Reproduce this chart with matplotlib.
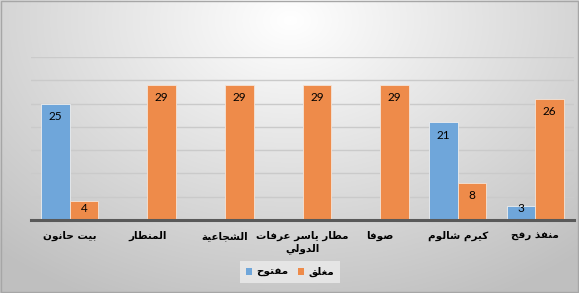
import numpy as np
import matplotlib
matplotlib.use("Agg")
import matplotlib.pyplot as plt
from matplotlib.patches import Patch

# data
categories = ["بيت حانون", "المنطار", "الشجاعية", "مطار ياسر عرفات\nالدولي",
              "صوفا", "كيرم شالوم", "منفذ رفح"]
open_vals = [25, 0, 0, 0, 0, 21, 3]
closed_vals = [4, 29, 29, 29, 29, 8, 26]
series_names = ["مفتوح", "مغلق"]

# simple arabic shaping (presentation forms) since matplotlib has no bidi
FORMS = {
    'ا': (0xFE8D, 0xFE8E), 'ب': (0xFE8F, 0xFE90, 0xFE91, 0xFE92),
    'ة': (0xFE93, 0xFE94), 'ت': (0xFE95, 0xFE96, 0xFE97, 0xFE98),
    'ج': (0xFE9D, 0xFE9E, 0xFE9F, 0xFEA0), 'ح': (0xFEA1, 0xFEA2, 0xFEA3, 0xFEA4),
    'د': (0xFEA9, 0xFEAA), 'ذ': (0xFEAB, 0xFEAC),
    'ر': (0xFEAD, 0xFEAE), 'ز': (0xFEAF, 0xFEB0),
    'س': (0xFEB1, 0xFEB2, 0xFEB3, 0xFEB4), 'ش': (0xFEB5, 0xFEB6, 0xFEB7, 0xFEB8),
    'ص': (0xFEB9, 0xFEBA, 0xFEBB, 0xFEBC), 'ط': (0xFEC1, 0xFEC2, 0xFEC3, 0xFEC4),
    'ع': (0xFEC9, 0xFECA, 0xFECB, 0xFECC), 'غ': (0xFECD, 0xFECE, 0xFECF, 0xFED0),
    'ف': (0xFED1, 0xFED2, 0xFED3, 0xFED4), 'ق': (0xFED5, 0xFED6, 0xFED7, 0xFED8),
    'ك': (0xFED9, 0xFEDA, 0xFEDB, 0xFEDC), 'ل': (0xFEDD, 0xFEDE, 0xFEDF, 0xFEE0),
    'م': (0xFEE1, 0xFEE2, 0xFEE3, 0xFEE4), 'ن': (0xFEE5, 0xFEE6, 0xFEE7, 0xFEE8),
    'و': (0xFEED, 0xFEEE), 'ي': (0xFEF1, 0xFEF2, 0xFEF3, 0xFEF4),
}


def shape_line(s):
    out = []
    for i, c in enumerate(s):
        if c not in FORMS:
            out.append(c)
            continue
        f = FORMS[c]
        prev = s[i - 1] if i > 0 else ''
        nxt = s[i + 1] if i + 1 < len(s) else ''
        join_prev = prev in FORMS and len(FORMS[prev]) == 4
        join_next = len(f) == 4 and nxt in FORMS
        if join_prev and join_next:
            code = f[3]
        elif join_prev:
            code = f[1]
        elif join_next:
            code = f[2]
        else:
            code = f[0]
        out.append(chr(code))
    return ''.join(out)[::-1]


def ar(s):
    return "\n".join(shape_line(line) for line in s.split("\n"))


blue = "#6FA6DA"
orange = "#EE8B4A"

fig = plt.figure(figsize=(5.79, 2.93), dpi=100)

# background radial gradient
bg = fig.add_axes([0, 0, 1, 1], zorder=-10)
yy, xx = np.mgrid[0:293, 0:579]
r = np.sqrt(((xx - 290) / 420.0) ** 2 + ((yy - 20) / 300.0) ** 2)
shade = np.clip(1.0 - 0.24 * r, 0.75, 1.0)
bg.imshow(np.dstack([shade, shade, shade]), aspect='auto', extent=[0, 1, 0, 1])
bg.set_axis_off()
fig.patches.append(plt.Rectangle((0.001, 0.002), 0.997, 0.995, transform=fig.transFigure,
                                 fill=False, edgecolor="#a6a6a6", linewidth=1))

ax = fig.add_axes([31 / 579, 73 / 293, 543 / 579, 163 / 293])
ax.patch.set_alpha(0)

x = np.arange(len(categories))
w = 0.37
b1 = ax.bar(x - w / 2, open_vals, w, color=blue, edgecolor="#eeeeee", linewidth=0.6, zorder=3)
b2 = ax.bar(x + w / 2, closed_vals, w, color=orange, edgecolor="#f4e4d8", linewidth=0.6, zorder=3)

ax.set_xlim(-0.5, len(categories) - 0.5)
ax.set_ylim(0, 35)

# labels sit just inside the bar top, but never lower than the axis allows
px_per_unit = 163 / 35.0
for bars, vals in ((b1, open_vals), (b2, closed_vals)):
    for rect, v in zip(bars, vals):
        if v == 0:
            continue
        yc = max(v - 13 / px_per_unit, 12 / px_per_unit)
        ax.text(rect.get_x() + rect.get_width() / 2, yc, str(v),
                ha='center', va='center', fontsize=8.5, family='Lato',
                color='black', zorder=4)

ax.set_yticks(np.arange(5, 36, 5))
ax.yaxis.grid(True, color="#cacaca", linewidth=1, zorder=0)
ax.tick_params(axis='y', left=False, labelleft=False)
ax.tick_params(axis='x', length=0, pad=8)
ax.set_xticks(x)
ax.set_xticklabels([ar(c) for c in categories], fontsize=7.5, fontweight='bold',
                   family='DejaVu Sans', linespacing=1.2, va='top')
for s in ('top', 'left', 'right'):
    ax.spines[s].set_visible(False)
ax.spines['bottom'].set_color("#595959")
ax.spines['bottom'].set_linewidth(2.2)
ax.spines['bottom'].set_zorder(5)

handles = [Patch(facecolor=blue), Patch(facecolor=orange)]
leg = fig.legend(handles, [ar(n) for n in series_names], loc='center',
                 bbox_to_anchor=(290 / 579, 1 - 272 / 293), ncol=2, frameon=True,
                 prop={'weight': 'bold', 'family': 'DejaVu Sans', 'size': 7.5},
                 handlelength=0.6, handleheight=0.6, handletextpad=0.4, columnspacing=0.9,
                 borderpad=0.6, fancybox=False)
leg.get_frame().set_facecolor("#ececec")
leg.get_frame().set_edgecolor("none")

fig.savefig("out.png", dpi=100)
